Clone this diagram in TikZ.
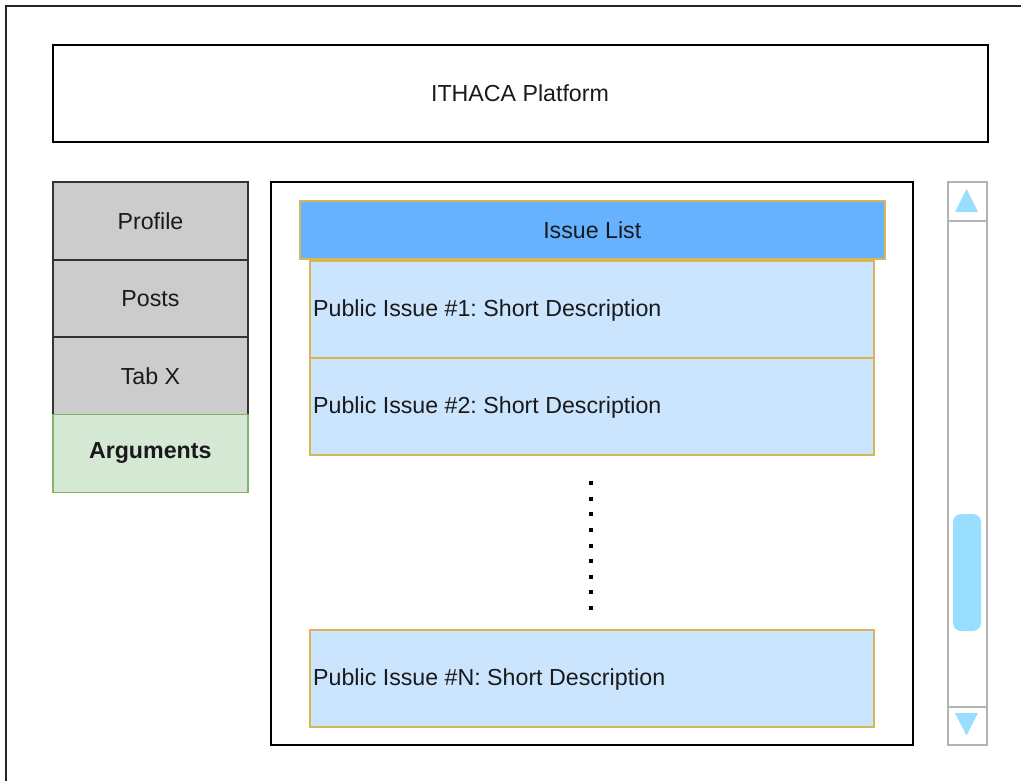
\documentclass[tikz,border=0pt]{standalone}
\usepackage{fontspec}
\setmainfont{Liberation Sans}
\frenchspacing
\definecolor{tabgray}{HTML}{CCCCCC}
\definecolor{tabline}{HTML}{333333}
\definecolor{arggreen}{HTML}{D5E8D4}
\definecolor{argline}{HTML}{82B366}
\definecolor{listblue}{HTML}{66B2FF}
\definecolor{issueblue}{HTML}{CCE5FF}
\definecolor{goldline}{HTML}{D6B656}
\definecolor{scrollgray}{HTML}{B3B3B3}
\definecolor{scrollblue}{HTML}{99DDFF}
\definecolor{txt}{HTML}{1A1A1A}
\tikzset{
  box/.style={draw=black, line width=2pt, rectangle, inner sep=0pt, anchor=north west, text=txt, font=\fontsize{23.2}{27}\selectfont},
  tabbox/.style={box, draw=tabline, fill=tabgray, minimum width=195pt, minimum height=78pt},
  argbox/.style={box, draw=argline, fill=arggreen, line width=1.5pt, minimum width=195pt, minimum height=78pt, font=\fontsize{23.2}{27}\selectfont\bfseries},
  issuebox/.style={box, draw=goldline, fill=issueblue, line width=1.5pt, minimum width=564pt, minimum height=97pt},
  sbox/.style={draw=scrollgray, line width=2pt, rectangle, inner sep=0pt, anchor=north west},
  arrowtri/.style={fill=scrollblue, draw=none},
}
\begin{document}
\begin{tikzpicture}[x=1pt, y=-1pt]
\useasboundingbox (0,0) rectangle (1021,780);
% outer frame
\draw[line width=2pt, black!85] (6,781) -- (6,6) -- (1022,6);
% header
\node[box, minimum width=935pt, minimum height=97pt] (header) at (51.5,44) {};
\node[text=txt, font=\fontsize{23.2}{27}\selectfont] (headertxt) at (header.center) {ITHACA Platform};
% tabs
\node[tabbox] (profile) at (52,181) {Profile};
\node[tabbox] (posts) at (52,258.5) {Posts};
\node[tabbox] (tabx) at (52,336) {Tab X};
\node[argbox] (args) at (52,413.5) {Arguments};
% main panel
\node[box, minimum width=642pt, minimum height=563pt] (panel) at (270,181) {};
% issue list header
\node[box, draw=goldline, fill=listblue, line width=1.5pt, minimum width=585pt, minimum height=58pt] (issuelist) at (299,200) {Issue List};
% issues
\node[issuebox] (i1) at (309,260) {};
\node[anchor=west, inner sep=0pt, text=txt, font=\fontsize{23.2}{27}\selectfont] (i1t) at (313,310) {Public Issue \#1: Short Description};
\node[issuebox] (i2) at (309,357) {};
\node[anchor=west, inner sep=0pt, text=txt, font=\fontsize{23.2}{27}\selectfont] (i2t) at (313,407) {Public Issue \#2: Short Description};
\node[issuebox] (iN) at (309,629) {};
\node[anchor=west, inner sep=0pt, text=txt, font=\fontsize{23.2}{27}\selectfont] (iNt) at (313,679) {Public Issue \#N: Short Description};
% dots
\foreach \k in {0,...,8} {
  \fill[black] (588.7,{481.3+15.55*\k}) rectangle ++(4,4);
}
% scrollbar
\node[sbox, minimum width=39pt, minimum height=563pt] (sbar) at (947,181) {};
\node[sbox, minimum width=39pt, minimum height=38.5pt] (sup) at (947,181) {};
\node[sbox, minimum width=39pt, minimum height=38.5pt] (sdown) at (947,705.5) {};
\fill[arrowtri] (955,212) -- (978,212) -- (966.5,189) -- cycle;
\fill[arrowtri] (955,713) -- (978,713) -- (966.5,735.5) -- cycle;
\fill[scrollblue, rounded corners=8pt] (953,514) rectangle (981,631);
\end{tikzpicture}
\end{document}
